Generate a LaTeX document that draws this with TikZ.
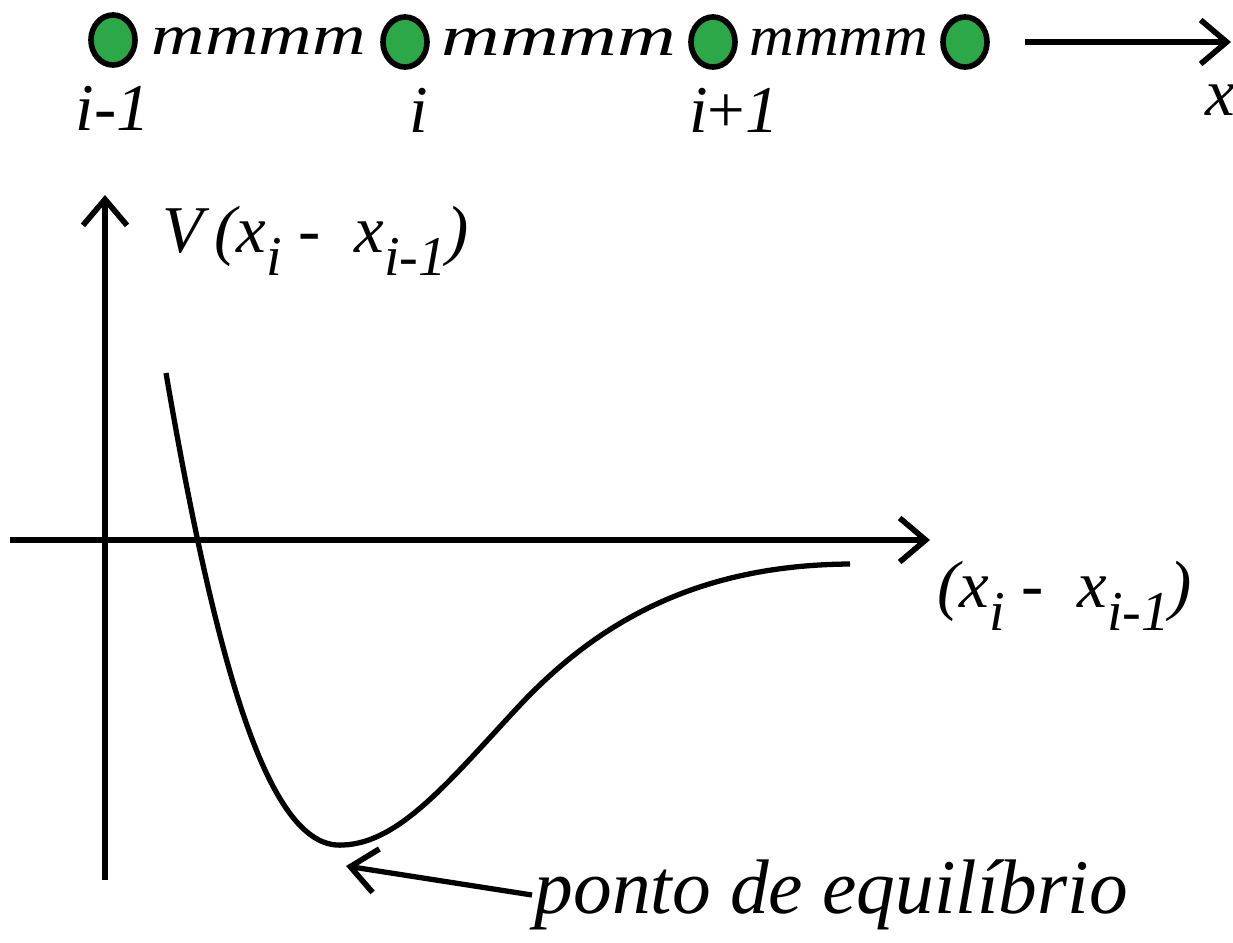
\documentclass[tikz,border=0pt]{standalone}
\usepackage{fontspec}
\setmainfont{Liberation Serif}[ItalicFont={Liberation Serif Italic}]
\usetikzlibrary{arrows.meta,shapes.geometric,positioning,calc}
\definecolor{ballgreen}{RGB}{44,168,72}
\newcommand{\lowsub}[1]{\raisebox{-0.35em}{\fontsize{16}{16}\selectfont #1}}

\begin{document}
\begin{tikzpicture}[x=0.01cm,y=-0.01cm,line width=1.5pt,>={Straight Barb[length=2.6mm,width=4.4mm,line width=1.6pt]},every node/.style={font=\fontsize{19}{22}\selectfont\itshape,inner sep=0pt},ball/.style={draw,line width=1.6pt,fill=ballgreen,ellipse,minimum width=0.44cm,minimum height=0.5cm},spring/.style={font=\fontsize{17}{20}\selectfont\itshape}]
\useasboundingbox (0,0) rectangle (1233,942);
% chain of particles
\node[ball](b1) at (113,40){};
\node[ball](b2) at (405,42){};
\node[ball](b3) at (713,42){};
\node[ball](b4) at (965,42){};
\node[spring](s1) at ($(b1)!0.5!(b2)$){\scalebox{1.24}[0.95]{mmmm}};
\node[spring](s2) at ($(b2)!0.5!(b3)$){\scalebox{1.36}[0.95]{mmmm}};
\node[spring](s3) at ($(b3)!0.5!(b4)$){\scalebox{1.04}[0.95]{mmmm}};
\node[below=0.16cm of b1](l1){i-1};
\node[below=0.16cm of b2,xshift=4](l2){i};
\node[below=0.16cm of b3,xshift=6](l3){i\textup{+}1};
\coordinate(xs) at (1025,42); \coordinate(xe) at (1231,42);
\draw[->](xs)--(xe);
\node(xl) at (1220,100){x};
% potential
\coordinate(vb) at (105,880); \coordinate(vt) at (105,195);
\coordinate(hl) at (10,540); \coordinate(hr) at (930,540);
\draw[->](vb)--(vt); \draw[->](hl)--(hr);
\node[anchor=base west](vl) at (160,252){V\,(x\lowsub{i}\ -\ \ x\lowsub{i-1})};
\node[anchor=base west](hlab) at (935,607){(x\lowsub{i}\ -\ \ x\lowsub{i-1})};
\draw (166,373) .. controls (222,700) and (275,850) .. (343,845) .. controls (400,843) and (450,780) .. (520,705) .. controls (600,620) and (700,565) .. (850,564);
\coordinate(eqtip) at (346,866);
\node[anchor=west,font=\fontsize{22}{26}\selectfont\itshape](eq) at (532,895){ponto de equilíbrio};
\draw[->](eq.west)--(eqtip);
\end{tikzpicture}
\end{document}
